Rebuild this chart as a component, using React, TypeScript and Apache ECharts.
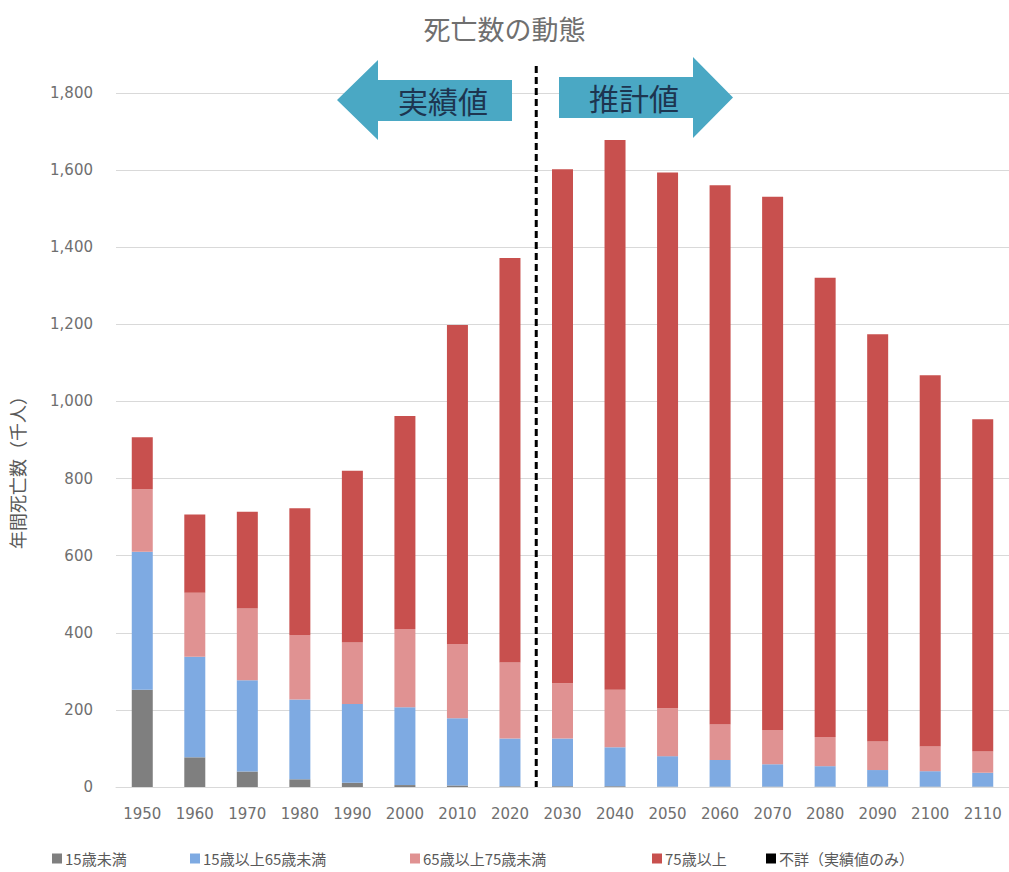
import React, { useEffect, useRef } from "react";
import * as echarts from "echarts";

const years = ["1950", "1960", "1970", "1980", "1990", "2000", "2010", "2020", "2030", "2040", "2050", "2060", "2070", "2080", "2090", "2100", "2110"];
const under15 = [252, 77, 40, 20, 11, 5, 4, 2, 2, 2, 1, 1, 1, 1, 1, 1, 1];
const age15to64 = [358, 261, 237, 207, 204, 202, 174, 124, 124, 101, 79, 69, 58, 53, 43, 40, 36];
const age65to74 = [162, 166, 186, 167, 160, 203, 193, 197, 143, 149, 124, 93, 89, 76, 74, 64, 56];
const age75plus = [135, 203, 251, 329, 445, 552, 827, 1049, 1333, 1426, 1390, 1398, 1383, 1191, 1056, 963, 861];
const unknown = [0, 0, 0, 0, 0, 0, 0, 0, null, null, null, null, null, null, null, null, null];

const seriesNames = ["15歳未満", "15歳以上65歳未満", "65歳以上75歳未満", "75歳以上", "不詳（実績値のみ）"];
const seriesColors = ["#7f7f7f", "#7eaae2", "#e09292", "#c8504e", "#000000"];
const seriesData = [under15, age15to64, age65to74, age75plus, unknown];
const legendLefts = [47, 185, 405, 647, 761];

const FONT = "'Noto Sans CJK JP', 'Noto Sans', sans-serif";
const NUMFONT = "'DejaVu Sans', sans-serif";
const GRAY = "#595959";
const LIGHTGRAY = "#6f6f6f";

export default function App() {
  const ref = useRef<HTMLDivElement>(null);
  useEffect(() => {
    if (!ref.current) return;
    const chart = echarts.init(ref.current, null, { renderer: "svg" });
    chart.setOption({
      animation: false,
      backgroundColor: "#ffffff",
      textStyle: { fontFamily: FONT },
      title: {
        text: "死亡数の動態",
        left: "center",
        top: 10,
        textStyle: { fontSize: 27, fontWeight: "normal", color: LIGHTGRAY, fontFamily: FONT },
      },
      legend: seriesNames.map((n, i) => ({
        data: [n],
        left: legendLefts[i],
        top: 846,
        itemWidth: 10,
        itemHeight: 10,
        icon: "rect",
        itemGap: 4,
        textStyle: { fontSize: 15, color: GRAY, fontFamily: FONT, padding: [0, 0, 0, -2] },
      })),
      grid: { left: 116, right: 0, top: 93, bottom: 85, containLabel: false },
      xAxis: {
        type: "category",
        data: years,
        axisLine: { show: true, lineStyle: { color: "#d9d9d9", width: 1 } },
        axisTick: { show: false },
        axisLabel: { color: LIGHTGRAY, fontSize: 15, margin: 19, fontFamily: NUMFONT },
      },
      yAxis: {
        type: "value",
        min: 0,
        max: 1800,
        interval: 200,
        axisLine: { show: false },
        axisTick: { show: false },
        splitLine: { lineStyle: { color: "#d9d9d9", width: 1 } },
        axisLabel: {
          color: LIGHTGRAY,
          fontSize: 15,
          margin: 23,
          fontFamily: NUMFONT,
          formatter: (v: number) => v.toLocaleString("en-US"),
        },
      },
      series: seriesNames.map((n, i) => ({
        name: n,
        type: "bar",
        stack: "total",
        barWidth: 21,
        itemStyle: { color: seriesColors[i] },
        data: seriesData[i],
      })),
    });

    const p1 = chart.convertToPixel({ xAxisIndex: 0, yAxisIndex: 0 }, ["2020", 0]) as number[];
    const p2 = chart.convertToPixel({ xAxisIndex: 0, yAxisIndex: 0 }, ["2030", 0]) as number[];
    const midX = (p1[0] + p2[0]) / 2;
    const arrowColor = "#4aa8c4";
    const arrowText = "#1d3550";

    chart.setOption({
      graphic: [
        {
          type: "line",
          shape: { x1: midX, y1: 66, x2: midX, y2: p1[1] },
          style: { stroke: "#000000", lineWidth: 3, lineDash: [7, 4] },
          z: 100,
        },
        {
          type: "polygon",
          shape: { points: [[337, 100], [378, 60], [378, 80], [512, 80], [512, 121], [378, 121], [378, 140]] },
          style: { fill: arrowColor },
          z: 100,
        },
        {
          type: "polygon",
          shape: { points: [[559, 77], [693, 77], [693, 57], [733, 97.5], [693, 138], [693, 118], [559, 118]] },
          style: { fill: arrowColor },
          z: 100,
        },
        {
          type: "text",
          x: 443,
          y: 100,
          style: { text: "実績値", fill: arrowText, fontSize: 30, fontFamily: FONT, align: "center", verticalAlign: "middle" },
          z: 101,
        },
        {
          type: "text",
          x: 634,
          y: 97,
          style: { text: "推計値", fill: arrowText, fontSize: 30, fontFamily: FONT, align: "center", verticalAlign: "middle" },
          z: 101,
        },
        {
          type: "text",
          x: 17,
          y: 468,
          rotation: Math.PI / 2,
          style: { text: "年間死亡数（千人）", fill: GRAY, fontSize: 18, fontFamily: FONT, align: "center", verticalAlign: "middle" },
        },
      ],
    });

    return () => chart.dispose();
  }, []);
  return <div ref={ref} style={{ position: "absolute", left: 0, top: 0, width: 1009, height: 872 }} />;
}
